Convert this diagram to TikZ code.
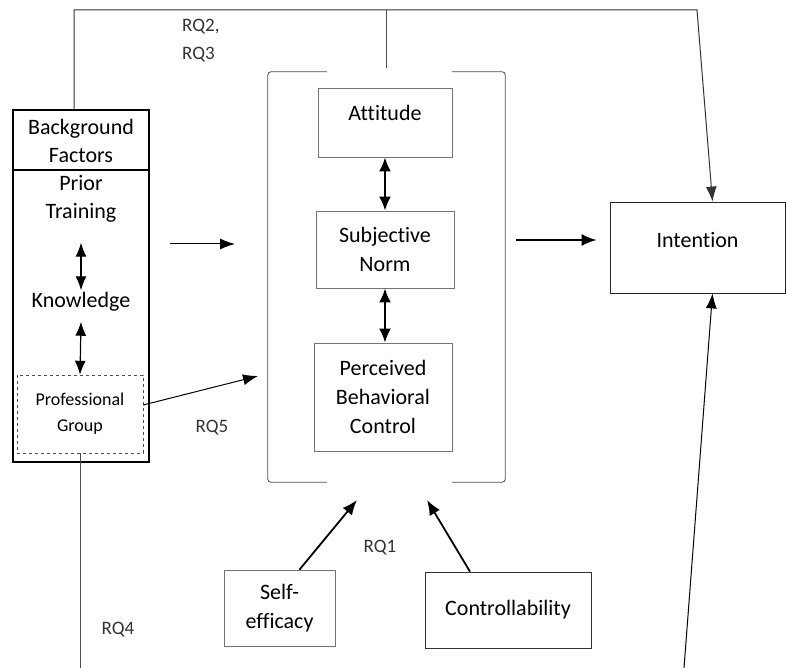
\documentclass[tikz,border=0pt]{standalone}
\usepackage{fontspec}
\setmainfont{Carlito}[Ligatures={NoCommon}]
\usetikzlibrary{arrows.meta, positioning}

\begin{document}
\begin{tikzpicture}[x=1pt, y=-1pt,
	box/.style={draw=black!55, line width=0.8pt, align=center, inner sep=0pt, font=\fontsize{22}{29}\selectfont},
	lbl/.style={align=center, inner sep=0pt, font=\fontsize{22}{28}\selectfont},
	rq/.style={align=left, inner sep=0pt, text=black!80, font=\fontsize{19}{28}\selectfont},
	arr/.style={-{Latex[length=15pt,width=12pt]}, line width=1.8pt},
	arrthin/.style={-{Latex[length=15pt,width=11pt]}, line width=1pt},
	dbl/.style={{Latex[length=14pt,width=12pt]}-{Latex[length=14pt,width=12pt]}, line width=2pt},
	dblthin/.style={{Latex[length=14pt,width=11pt]}-{Latex[length=14pt,width=11pt]}, line width=1.2pt},
	thinline/.style={draw=black!70, line width=0.8pt}]
	\useasboundingbox (0,0) rectangle (787,668);
	% background factors
	\node[draw, line width=1.8pt, minimum width=136pt, minimum height=352pt] (bgbox) at (81,286) {};
	\coordinate (hd) at (81,170);
	\draw[line width=1.2pt] (bgbox.west |- hd) -- (bgbox.east |- hd);
	\node[lbl] (bgf) at (81,141) {Background\\Factors};
	\node[lbl] (prior) at (81,199) {Prior\\Training};
	\node[lbl] (know) at (81,302) {Knowledge};
	\node[draw=black!70, dashed, minimum width=126pt, minimum height=78pt, align=center, inner sep=0pt, font=\fontsize{18}{26}\selectfont] (pg) at (80,414) {Professional\\Group};
	\draw[dblthin] ([yshift=-20pt]prior.south) -- ([yshift=2pt]know.north);
	\draw[dblthin] ([yshift=-10pt]know.south) -- (pg.north);
	% the model
	\node[minimum width=237pt, minimum height=410pt, inner sep=0pt] (tpb) at (386.5,277) {};
	\draw[thinline, rounded corners=3pt] ([xshift=59pt]tpb.north west) -- (tpb.north west) -- (tpb.south west) -- ([xshift=59pt]tpb.south west);
	\draw[thinline, rounded corners=3pt] ([xshift=-53pt]tpb.north east) -- (tpb.north east) -- (tpb.south east) -- ([xshift=-53pt]tpb.south east);
	\node[box, minimum width=134pt, minimum height=69pt] (att) at (385,122.5) {Attitude\\[-9pt]\mbox{}};
	\node[box, minimum width=138pt, minimum height=77pt] (sn) at (385,249.5) {Subjective\\Norm};
	\node[box, minimum width=138pt, minimum height=108pt] (pbc) at (383,397) {Perceived\\Behavioral\\Control};
	\draw[dbl] (att.south) -- (sn.north);
	\draw[dbl] (sn.south) -- (pbc.north -| sn.south);
	\node[box, draw=black!85, minimum width=175pt, minimum height=91pt] (int) at (697.5,247.5) {Intention\\[-14pt]\mbox{}};
	\node[box, minimum width=111pt, minimum height=76pt] (se) at (279.5,608) {Self-\\efficacy};
	\node[box, draw=black!80, minimum width=166pt, minimum height=76pt] (ctrl) at (508,610) {Controllability};
	% arrows
	\coordinate (bgout) at (170,244);
	\coordinate (tpbin) at (235,244);
	\coordinate (tpbpg) at (258,376);
	\coordinate (tpbout) at (516,240);
	\coordinate (tpbse) at (357,500);
	\coordinate (tpbct) at (427,500);
	\draw[arrthin] (bgout) -- (tpbin);
	\draw[arrthin] ([yshift=9pt]pg.east) -- (tpbpg);
	\draw[arr] (tpbout) -- ([xshift=-13pt,yshift=7.5pt]int.west);
	\draw[arr] ([xshift=20pt]se.north) -- (tpbse);
	\draw[arr] ([xshift=-38pt]ctrl.north) -- (tpbct);
	% research questions
	\coordinate (topr) at (697,10);
	\coordinate (pgend) at (80,668);
	\coordinate (intend) at (684,668);
	\draw[arrthin, draw=black!80] ([xshift=-7pt]bgbox.north) |- (topr) -- ([xshift=15pt]int.north);
	\draw[thinline] ([yshift=4pt]tpb.north) -- (tpb.north |- topr);
	\draw[thinline] (pg.south) -- (pgend);
	\draw[arrthin] (intend) -- ([xshift=15pt]int.south);
	\node[rq, anchor=west] (rq23) at (182,41) {RQ2,\\RQ3};
	\node[rq] (rq1) at (380,548) {RQ1};
	\node[rq] (rq4) at (118,630) {RQ4};
	\node[rq] (rq5) at (212,428) {RQ5};
\end{tikzpicture}
\end{document}
